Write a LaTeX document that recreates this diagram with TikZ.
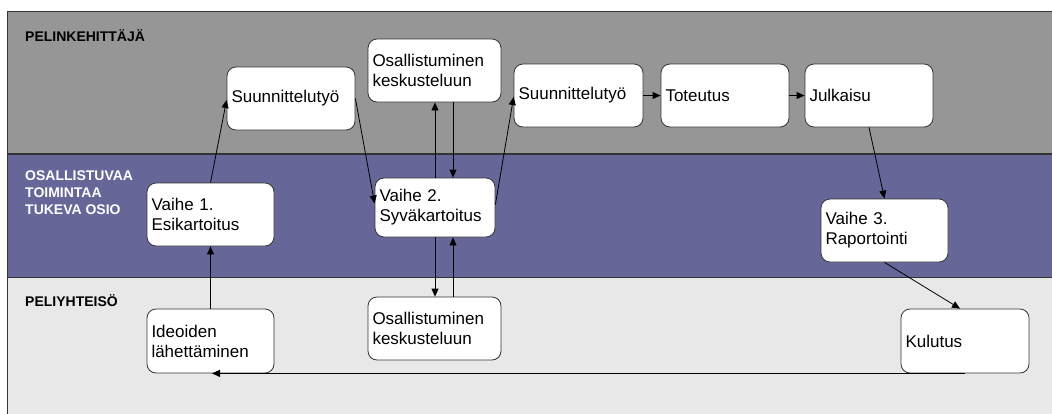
\documentclass[tikz,border=0pt]{standalone}
\usepackage{fontspec}
\setmainfont{Liberation Sans}
\usetikzlibrary{arrows.meta}
\definecolor{topgray}{HTML}{969696}
\definecolor{midpurple}{HTML}{666699}
\definecolor{botgray}{HTML}{E8E8E8}
\definecolor{edge}{HTML}{333333}
\begin{document}
\begin{tikzpicture}[x=1pt,y=1pt,
  box/.style={draw=edge, line width=0.8pt, fill=white, rounded corners=9pt,
    inner xsep=4.5pt, inner ysep=0pt, align=left,
    font=\fontsize{17}{20}\selectfont},
  lanelabel/.style={anchor=base west, inner sep=0pt, align=left,
    font=\fontsize{14}{17}\selectfont\bfseries},
  arr/.style={-{Triangle[length=8pt,width=7pt]}, line width=0.8pt, black}]
\useasboundingbox (0,0) rectangle (1052,-413);
% lanes
\fill[topgray] (7,-11) rectangle (1053,-154);
\fill[midpurple] (7,-154) rectangle (1053,-277);
\fill[botgray] (7,-277) rectangle (1053,-414);
\draw[edge, line width=1pt] (1053,-11) -- (7,-11) -- (7,-414);
\draw[edge, line width=1.3pt] (7,-154) -- (1053,-154);
\draw[edge, line width=1pt] (7,-277) -- (1053,-277);
\node[lanelabel, text=black] (l1) at (25,-41) {PELINKEHITTÄJÄ};
\node[lanelabel, text=white, anchor=north west] (l2) at (25,-170.5) {OSALLISTUVAA\\TOIMINTAA\\TUKEVA OSIO};
\node[lanelabel, text=black] (l3) at (25,-306) {PELIYHTEISÖ};
% boxes
\node[box, text width=119pt, minimum height=63pt] (s1) at (291,-98.5) {Suunnittelutyö};
\node[box, text width=118pt, minimum height=63pt] (v1) at (210.5,-214.5) {Vaihe 1.\\Esikartoitus};
\node[box, text width=118pt, minimum height=64pt] (id) at (210.5,-341) {Ideoiden\\lähettäminen};
\node[box, text width=124pt, minimum height=63pt] (ot) at (434.5,-70.5) {Osallistuminen\\keskusteluun};
\node[box, text width=111pt, minimum height=59pt] (v2) at (435,-207.5) {Vaihe 2.\\Syväkartoitus};
\node[box, text width=124pt, minimum height=63pt] (ob) at (434.5,-328.5) {Osallistuminen\\keskusteluun};
\node[box, text width=120pt, minimum height=63pt] (s2) at (578.5,-95.5) {Suunnittelutyö};
\node[box, text width=119pt, minimum height=63pt] (to) at (725,-95.5) {Toteutus};
\node[box, text width=119pt, minimum height=63pt] (ju) at (869,-95.5) {Julkaisu};
\node[box, text width=118pt, minimum height=63pt] (v3) at (884.5,-230.5) {Vaihe 3.\\Raportointi};
\node[box, text width=119pt, minimum height=64pt] (ku) at (965,-341) {Kulutus};
% connectors
\draw[arr] (id.north) -- (v1.south);
\draw[arr] (v1.north) -- ([yshift=-1.5pt]s1.west);
\draw[arr] (s1.east) -- ([yshift=4pt]v2.west);
\draw[arr] (v2.north) -- (v2.north |- ot.south);
\draw[arr] ([xshift=18.5pt]ot.south) -- ([xshift=18.5pt]ot.south |- v2.north);
\draw[arr] ([yshift=3pt]v2.east) -- ([yshift=-1.5pt]s2.west);
\draw[arr] (s2.east) -- (to.west);
\draw[arr] (to.east) -- (ju.west);
\draw[arr] (ju.south) -- (v3.north);
\draw[arr] (v3.south) -- ([xshift=-5pt]ku.north);
\draw[arr] (v2.south) -- (v2.south |- ob.north);
\draw[arr] ([xshift=18.5pt]ob.north) -- ([xshift=18.5pt]ob.north |- v2.south);
\draw[arr, line width=1.2pt] (ku.south) -- ([xshift=1.5pt]id.south);
\end{tikzpicture}
\end{document}
